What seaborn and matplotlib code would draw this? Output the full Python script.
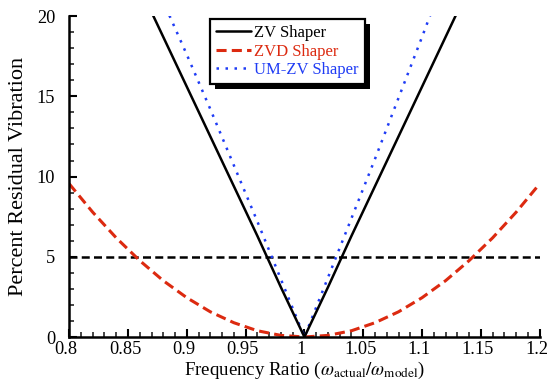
import matplotlib
matplotlib.use("Agg")
import matplotlib.pyplot as plt
import matplotlib.transforms as mtransforms
import seaborn as sns
import pandas as pd
from matplotlib.ticker import MultipleLocator
from matplotlib.patches import Rectangle

# Data
zv_x = [0.86, 0.88, 0.90, 0.92, 0.94, 0.96, 0.98, 1.00, 1.02, 1.04, 1.06, 1.08, 1.10, 1.12, 1.14]
zv_y = [21.8, 18.7, 15.6, 12.5, 9.4, 6.3, 3.1, 0.0, 3.1, 6.3, 9.4, 12.5, 15.6, 18.7, 21.8]

zvd_x = [0.80, 0.82, 0.84, 0.86, 0.88, 0.90, 0.92, 0.94, 0.96, 0.98, 1.00,
         1.02, 1.04, 1.06, 1.08, 1.10, 1.12, 1.14, 1.16, 1.18, 1.20]
zvd_y = [9.55, 7.78, 6.18, 4.76, 3.51, 2.45, 1.57, 0.89, 0.39, 0.10, 0.0,
         0.10, 0.39, 0.89, 1.57, 2.45, 3.51, 4.76, 6.18, 7.78, 9.55]

umzv_x = [0.87, 0.88, 0.90, 0.92, 0.94, 0.96, 0.98, 1.00, 1.02, 1.04, 1.06, 1.08, 1.10, 1.12]
umzv_y = [22.8, 20.9, 17.6, 14.2, 10.7, 7.2, 3.6, 0.0, 3.7, 7.4, 11.1, 14.9, 18.7, 22.6]

limit_x = [0.80, 1.20]
limit_y = [5.0, 5.0]

x_ticks = [0.8, 0.85, 0.9, 0.95, 1.0, 1.05, 1.1, 1.15, 1.2]
x_tick_labels = ["0.8", "0.85", "0.9", "0.95", "1", "1.05", "1.1", "1.15", "1.2"]
y_ticks = [0, 5, 10, 15, 20]

RED = "#dc2a10"
BLUE = "#1f3cf5"

sns.set_theme(style="ticks")
plt.rcParams["font.family"] = ["Liberation Serif", "DejaVu Serif"]
plt.rcParams["mathtext.fontset"] = "stix"

fig = plt.figure(figsize=(5.49, 3.82), dpi=100)
ax = fig.add_axes([0.1260, 0.1178, 0.857, 0.840])

df_zv = pd.DataFrame({"x": zv_x, "y": zv_y})
df_zvd = pd.DataFrame({"x": zvd_x, "y": zvd_y})
df_um = pd.DataFrame({"x": umzv_x, "y": umzv_y})
df_lim = pd.DataFrame({"x": limit_x, "y": limit_y})

sns.lineplot(data=df_lim, x="x", y="y", ax=ax, color="black", lw=1.8,
             legend=False, estimator=None, sort=False)
ax.lines[-1].set_dashes([3.2, 1.7])
sns.lineplot(data=df_zvd, x="x", y="y", ax=ax, color=RED, lw=2.2,
             estimator=None, sort=False, label="ZVD Shaper")
ax.lines[-1].set_dashes([3.3, 1.7])
sns.lineplot(data=df_um, x="x", y="y", ax=ax, color=BLUE, lw=1.8,
             estimator=None, sort=False, label="UM-ZV Shaper")
ax.lines[-1].set_dashes([1, 2.6])
sns.lineplot(data=df_zv, x="x", y="y", ax=ax, color="black", lw=1.8,
             estimator=None, sort=False, label="ZV Shaper")

ax.set_xlim(0.8, 1.2)
ax.set_ylim(0, 20)
ax.set_xticks(x_ticks)
ax.set_xticklabels(x_tick_labels)
ax.set_yticks(y_ticks)
ax.xaxis.set_minor_locator(MultipleLocator(0.01))
ax.yaxis.set_minor_locator(MultipleLocator(1))
ax.tick_params(axis="both", which="major", direction="in", length=6, width=1.5,
               labelsize=13.2, colors="black")
ax.tick_params(axis="x", which="major", pad=3)
ax.tick_params(axis="y", which="major", pad=10)
ax.tick_params(axis="both", which="minor", direction="in", length=3.5, width=1.2)
sns.despine(ax=ax)
for s in ("left", "bottom"):
    ax.spines[s].set_linewidth(1.8)
    ax.spines[s].set_color("black")

# shift x tick labels slightly left, as in the reference
shift = mtransforms.ScaledTranslation(-3 / 100, 0, fig.dpi_scale_trans)
for lab in ax.get_xticklabels():
    lab.set_transform(lab.get_transform() + shift)

ax.set_xlabel(r"Frequency Ratio ($\omega_{\mathrm{actual}}/\omega_{\mathrm{model}}$)",
              fontsize=13.6, labelpad=1, color="black")
ax.set_ylabel("Percent Residual Vibration", fontsize=16, labelpad=6, color="black")

handles, labels = ax.get_legend_handles_labels()
order = [labels.index(n) for n in ["ZV Shaper", "ZVD Shaper", "UM-ZV Shaper"]]
leg = ax.legend([handles[i] for i in order], [labels[i] for i in order],
                loc="upper left", bbox_to_anchor=(0.296, 0.995), fontsize=12,
                frameon=True, fancybox=False, shadow=False,
                handlelength=2.1, handletextpad=0.2, borderpad=0.35,
                labelspacing=0.15, borderaxespad=0.1)
leg.set_zorder(6)
leg.get_frame().set_edgecolor("black")
leg.get_frame().set_linewidth(1.6)
leg.get_frame().set_alpha(1)
for txt, col in zip(leg.get_texts(), ["black", RED, BLUE]):
    txt.set_color(col)

# legend drop shadow (solid black, offset to lower right)
fig.canvas.draw()
bb = leg.get_window_extent()
shadow = Rectangle((bb.x0 + 5, bb.y0 - 5), bb.width, bb.height,
                   transform=None, facecolor="black", edgecolor="none",
                   zorder=5.5, clip_on=False)
ax.add_artist(shadow)

fig.savefig("out.png", dpi=100)
